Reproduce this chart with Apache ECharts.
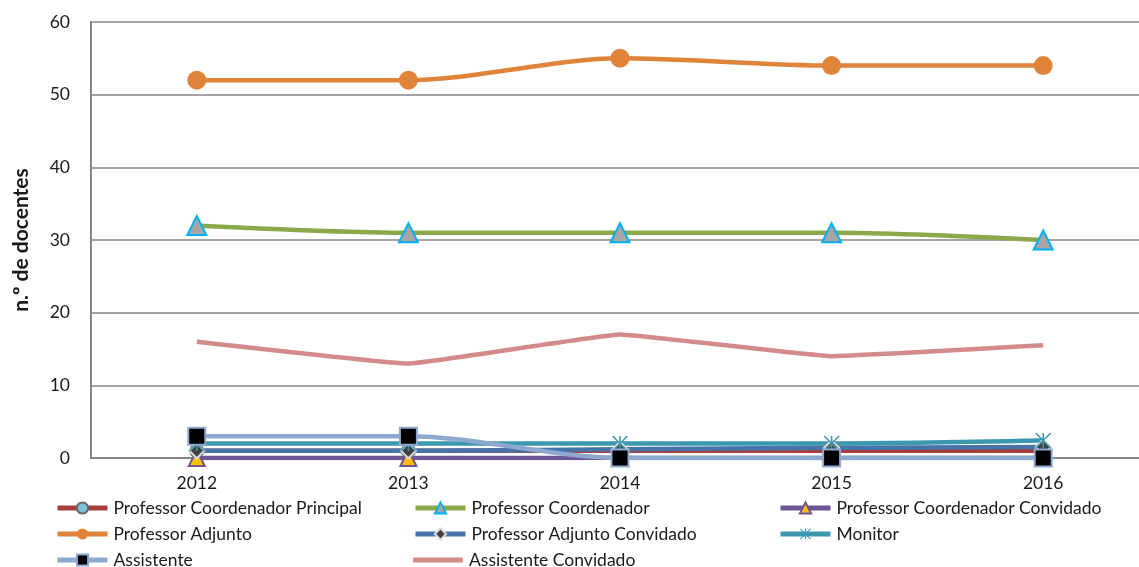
<!DOCTYPE html>
<html>
<head>
<meta charset="utf-8">
<script src="https://cdn.jsdelivr.net/npm/echarts@6/dist/echarts.min.js"></script>
<style>
	html, body { margin: 0; padding: 0; background: #fff; overflow: hidden; }
	#chart { width: 1160px; height: 567px; }
</style>
</head>
<body>
<div id="chart"></div>
<script>
// data
var years = ['2012', '2013', '2014', '2015', '2016'];
var coordPrincipal = [1, 1, 1, 1, 1];
var coordenador = [32, 31, 31, 31, 30];
var coordConvidado = [0, 0, 0, 0, 0];
var adjunto = [52, 52, 55, 54, 54];
var adjuntoConvidado = [1, 1, 1.2, 1.4, 1.5];
var monitor = [2, 2, 2, 2, 2.4];
var assistente = [3, 3, 0, 0, 0];
var assistenteConvidado = [16, 13, 17, 14, 15.5];
var yTicks = [0, 10, 20, 30, 40, 50, 60];

var FONT = 'Lato';
var asterisk = 'path://M-1,-10L1,-10L1,10L-1,10Z' +
	'M-10.7,-9.3L-9.3,-10.7L10.7,9.3L9.3,10.7Z' +
	'M9.3,-10.7L10.7,-9.3L-9.3,10.7L-10.7,9.3Z';

function line(name, data, color, symbol, size, fill, border, bw, smooth) {
	return {
		name: name,
		type: 'line',
		data: data,
		smooth: smooth,
		symbol: symbol,
		symbolSize: size,
		showSymbol: symbol !== 'none',
		lineStyle: { color: color, width: 4.5 },
		itemStyle: { color: fill, borderColor: border, borderWidth: bw },
		emphasis: { disabled: true }
	};
}

var series = [
	line('Professor Coordenador Principal', coordPrincipal, '#A5403D', 'circle', 13, '#7EC4D8', '#5E6B73', 2, 0.3),
	line('Professor Coordenador', coordenador, '#8AA94A', 'triangle', 19, '#A6A6A6', '#00B0F0', 2, 0.3),
	line('Professor Coordenador Convidado', coordConvidado, '#6F5496', 'triangle', 16, '#FFC000', '#6F5496', 2, 0.3),
	line('Professor Adjunto', adjunto, '#E0843A', 'circle', 19, '#E0843A', '#E0843A', 0, 0.3),
	line('Professor Adjunto Convidado', adjuntoConvidado, '#4674AA', 'diamond', 15, '#404040', '#D9D9D9', 2, 0.3),
	line('Monitor', monitor, '#3C98AE', asterisk, 16, '#3C98AE', '#3C98AE', 0, 0.3),
	line('Assistente', assistente, '#8EA9CF', 'rect', 17, '#000000', '#8EA9CF', 2, 0.3),
	line('Assistente Convidado', assistenteConvidado, '#D38B8A', 'none', 0, '#D38B8A', '#D38B8A', 0, 0.08)
];

// legend cells: [name, left, row center y]
var legendCells = [
	['Professor Coordenador Principal', 55, 507],
	['Professor Coordenador', 413, 507],
	['Professor Coordenador Convidado', 778, 507],
	['Professor Adjunto', 55, 533],
	['Professor Adjunto Convidado', 413, 533],
	['Monitor', 778, 533],
	['Assistente', 55, 559],
	['Assistente Convidado', 413, 559]
];

var legends = legendCells.map(function(c) {
	var plain = c[0] === 'Assistente Convidado';
	return {
		left: c[1],
		top: c[2] - 8,
		padding: 0,
		itemWidth: 50,
		itemHeight: plain ? 5 : 14,
		icon: plain ? 'roundRect' : undefined,
		selectedMode: false,
		data: [c[0]],
		lineStyle: { width: 5 },
		textStyle: { fontFamily: FONT, fontSize: 17.5, color: '#1a1a1a', padding: [0, 0, 0, 1] }
	};
});

var chart = echarts.init(document.getElementById('chart'), null, { renderer: 'canvas' });
chart.setOption({
	animation: false,
	grid: { left: 91, top: 22, width: 1058, height: 436 },
	xAxis: {
		type: 'category',
		data: years,
		axisLine: { lineStyle: { color: '#868686', width: 2 } },
		axisTick: { show: false },
		axisLabel: { fontFamily: FONT, fontSize: 17.5, color: '#1a1a1a', margin: 16 }
	},
	yAxis: {
		type: 'value',
		min: yTicks[0],
		max: yTicks[yTicks.length - 1],
		interval: 10,
		name: 'n.º de docentes',
		nameLocation: 'middle',
		nameGap: 59,
		nameTextStyle: { fontFamily: FONT, fontSize: 21, fontWeight: 'bold', color: '#1a1a1a' },
		axisLine: { show: true, lineStyle: { color: '#868686', width: 2 } },
		axisTick: { show: false },
		axisLabel: { fontFamily: FONT, fontSize: 17.5, color: '#1a1a1a', margin: 21 },
		splitLine: { lineStyle: { color: '#868686', width: 1.5 } }
	},
	legend: legends,
	series: series
});
</script>
</body>
</html>
